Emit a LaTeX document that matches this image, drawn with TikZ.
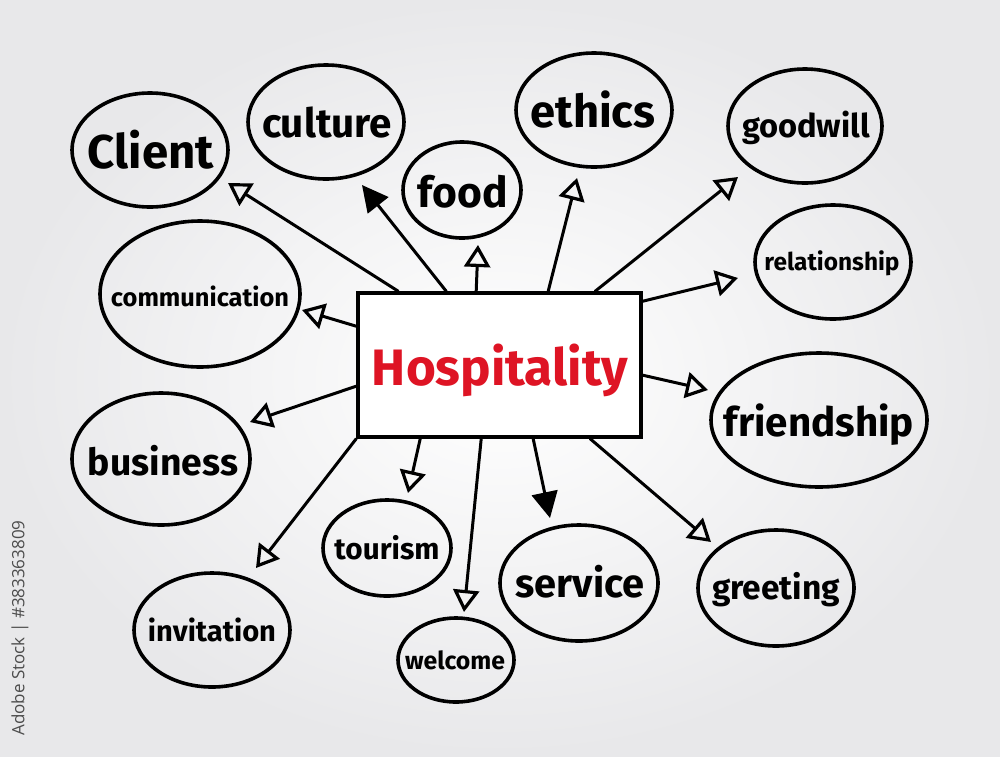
\documentclass[tikz,border=0pt]{standalone}
\usepackage{fontspec}
\usepackage{graphicx}
\setmainfont{Fira Sans}
\newfontfamily\stockfont{Open Sans}
\usetikzlibrary{shapes.geometric,arrows.meta,calc}
\definecolor{hred}{RGB}{222,20,36}
\definecolor{bgout}{RGB}{232,232,234}
\newcommand{\fw}[2]{\resizebox{#1pt}{!}{\bfseries #2}}
\tikzset{
  bubble/.style={ellipse, draw=black, line width=3.6pt, inner sep=0pt},
  word/.style={inner sep=0pt},
  hubbox/.style={rectangle, draw=black, line width=3.6pt, minimum width=283pt, minimum height=144pt, fill=white, inner sep=0pt},
  link/.style={line width=3pt, line cap=round},
  openhead/.style={link, -{Triangle[open, length=22pt, width=26pt, line width=3.2pt]}},
  fullhead/.style={link, -{Triangle[length=26pt, width=26pt]}}
}
\begin{document}
\begin{tikzpicture}[x=1pt,y=-1pt]
\useasboundingbox (0,0) rectangle (1000,756);
\shade[inner color=white, outer color=bgout] (0,0) rectangle (1000,756);
\node[rotate=90, text=black!70, font=\stockfont\fontsize{17pt}{17pt}\selectfont] (stock) at (20,628) {Adobe Stock | \#383363809};

% central box
\node[hubbox] (hub) at (499.5,365) {};
\node[word] (hubtext) at (500,370) {\fw{256}{\color{hred}Hospitality}};

% bubbles
\node[bubble, minimum width=156pt, minimum height=114pt] (client) at (150,150) {};
\node[word] (clientt) at (151,150) {\fw{126}{Client}};
\node[bubble, minimum width=156pt, minimum height=114pt] (culture) at (326,122) {};
\node[word] (culturet) at (327,123) {\fw{130}{culture}};
\node[bubble, minimum width=118pt, minimum height=96pt] (food) at (462,190) {};
\node[word] (foodt) at (463,192) {\fw{90}{food}};
\node[bubble, minimum width=156pt, minimum height=114pt] (ethics) at (594,110) {};
\node[word] (ethicst) at (593,110) {\fw{125}{ethics}};
\node[bubble, minimum width=154pt, minimum height=114pt] (goodwill) at (805,126) {};
\node[word] (goodwillt) at (806,128) {\fw{128}{goodwill}};
\node[bubble, minimum width=156pt, minimum height=114pt] (relationship) at (833,262) {};
\node[word] (relationshipt) at (832,263) {\fw{135}{relationship}};
\node[bubble, minimum width=200pt, minimum height=146pt] (communication) at (200,294) {};
\node[word] (communicationt) at (200,296) {\fw{178}{communication}};
\node[bubble, minimum width=216pt, minimum height=134pt] (friendship) at (819,420) {};
\node[word] (friendshipt) at (819,425) {\fw{190}{friendship}};
\node[bubble, minimum width=178pt, minimum height=132pt] (business) at (161,459) {};
\node[word] (businesst) at (163,461) {\fw{150}{business}};
\node[bubble, minimum width=128pt, minimum height=96pt] (tourism) at (387,548) {};
\node[word] (tourismt) at (387,548) {\fw{105}{tourism}};
\node[bubble, minimum width=158pt, minimum height=116pt] (service) at (579,583) {};
\node[word] (servicet) at (580,582) {\fw{129}{service}};
\node[bubble, minimum width=156pt, minimum height=116pt] (greeting) at (776,588) {};
\node[word] (greetingt) at (776,590) {\fw{128}{greeting}};
\node[bubble, minimum width=156pt, minimum height=114pt] (invitation) at (212,630) {};
\node[word] (invitationt) at (212,630) {\fw{128}{invitation}};
\node[bubble, minimum width=116pt, minimum height=84pt] (welcome) at (456,660) {};
\node[word] (welcomet) at (455,660) {\fw{100}{welcome}};

% arrow tips
\coordinate (tClient) at (228,183);
\coordinate (tCulture) at (362,185);
\coordinate (tFood) at (478,245);
\coordinate (tEthics) at (577,178);
\coordinate (tGoodwill) at (738,177);
\coordinate (tRel) at (738,278);
\coordinate (tComm) at (302,310);
\coordinate (tFriend) at (708,390);
\coordinate (tBus) at (250,422);
\coordinate (tInv) at (256,568);
\coordinate (tTour) at (408,493);
\coordinate (tWel) at (464,612);
\coordinate (tServ) at (550,518);
\coordinate (tGreet) at (711,542);

% arrows from hub
\draw[openhead] ($(hub.north west)+(42,0)$) -- (tClient);
\draw[fullhead] ($(hub.north west)+(90,0)$) -- (tCulture);
\draw[openhead] ($(hub.north west)+(120,0)$) -- (tFood);
\draw[openhead] ($(hub.north west)+(192,0)$) -- (tEthics);
\draw[openhead] ($(hub.north west)+(239,0)$) -- (tGoodwill);
\draw[openhead] ($(hub.north east)+(0,10)$) -- (tRel);
\draw[openhead] ($(hub.north west)+(0,35)$) -- (tComm);
\draw[openhead] ($(hub.north east)+(0,84)$) -- (tFriend);
\draw[openhead] ($(hub.north west)+(0,95)$) -- (tBus);
\draw[openhead] ($(hub.south west)+(0,0)$) -- (tInv);
\draw[openhead] ($(hub.south west)+(64,0)$) -- (tTour);
\draw[openhead] ($(hub.south west)+(125,0)$) -- (tWel);
\draw[fullhead] ($(hub.south west)+(177,0)$) -- (tServ);
\draw[openhead] ($(hub.south west)+(234,0)$) -- (tGreet);
\end{tikzpicture}
\end{document}
